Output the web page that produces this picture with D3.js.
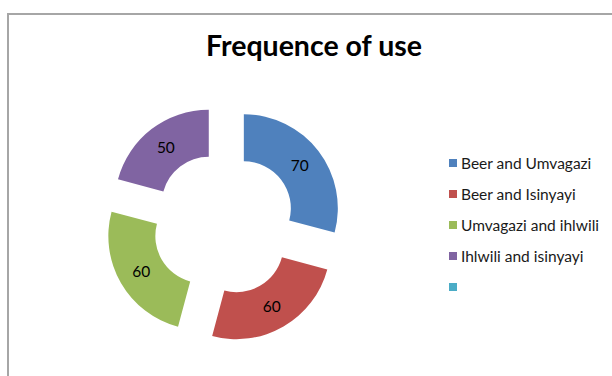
<!DOCTYPE html>
<html>
<head>
<meta charset="utf-8">
<script src="https://cdn.jsdelivr.net/npm/d3@7"></script>
<style>
  html, body { margin: 0; padding: 0; background: #fff; }
  svg { display: block; }
  text { font-family: Lato, "Open Sans", sans-serif; }
</style>
</head>
<body>
<svg id="chart" width="612" height="376"></svg>
<script>
// Pairings and how often each is used
const categories = ["Beer and Umvagazi", "Beer and Isinyayi", "Umvagazi and ihlwili", "Ihlwili and isinyayi"];
const values = [70, 60, 60, 50];
const sliceColors = ["#4F81BD", "#C0504D", "#9BBB59", "#8064A2"];
// The legend carries one extra, unlabelled entry
const legendLabels = [...categories, ""];
const legendColors = [...sliceColors, "#4BACC6"];
const title = "Frequence of use";

const svg = d3.select("#chart");
const W = 612, H = 376;

// Chart frame
svg.append("rect")
  .attr("x", 8).attr("y", 14)
  .attr("width", W + 10).attr("height", H + 10)
  .attr("fill", "#fff")
  .attr("stroke", "#a6a6a6")
  .attr("stroke-width", 2);

// Title
svg.append("text")
  .attr("x", 314).attr("y", 56)
  .attr("text-anchor", "middle")
  .attr("font-size", 28.5)
  .attr("font-weight", "bold")
  .attr("fill", "#000")
  .text(title);

// Exploded doughnut
const cx = 224, cy = 223.5;
const outerR = 94, innerR = 47, explode = 25;

const pie = d3.pie().sort(null).value(d => d);
const arcs = pie(values);
const arc = d3.arc().innerRadius(innerR).outerRadius(outerR);
const labelArc = d3.arc().innerRadius((innerR + outerR) / 2).outerRadius((innerR + outerR) / 2);

const g = svg.append("g").attr("transform", `translate(${cx},${cy})`);

const slice = g.selectAll("g.slice")
  .data(arcs)
  .join("g")
  .attr("class", "slice")
  .attr("transform", d => {
    const mid = (d.startAngle + d.endAngle) / 2;
    return `translate(${explode * Math.sin(mid)},${-explode * Math.cos(mid)})`;
  });

slice.append("path")
  .attr("d", arc)
  .attr("fill", (d, i) => sliceColors[i]);

slice.append("text")
  .attr("transform", d => `translate(${labelArc.centroid(d)})`)
  .attr("text-anchor", "middle")
  .attr("dy", "0.36em")
  .attr("font-size", 15.5)
  .attr("fill", "#000")
  .text(d => d.data);

// Legend
const legend = svg.append("g").attr("transform", "translate(449,163)");
const rowStep = 31;
const item = legend.selectAll("g.item")
  .data(legendLabels)
  .join("g")
  .attr("class", "item")
  .attr("transform", (d, i) => `translate(0,${i * rowStep})`);

item.append("rect")
  .attr("x", 0).attr("y", -4)
  .attr("width", 8).attr("height", 8)
  .attr("fill", (d, i) => legendColors[i]);

item.append("text")
  .attr("x", 12).attr("y", 0)
  .attr("dy", "0.36em")
  .attr("font-size", 15.5)
  .attr("fill", "#1a1a1a")
  .text(d => d);
</script>
</body>
</html>
